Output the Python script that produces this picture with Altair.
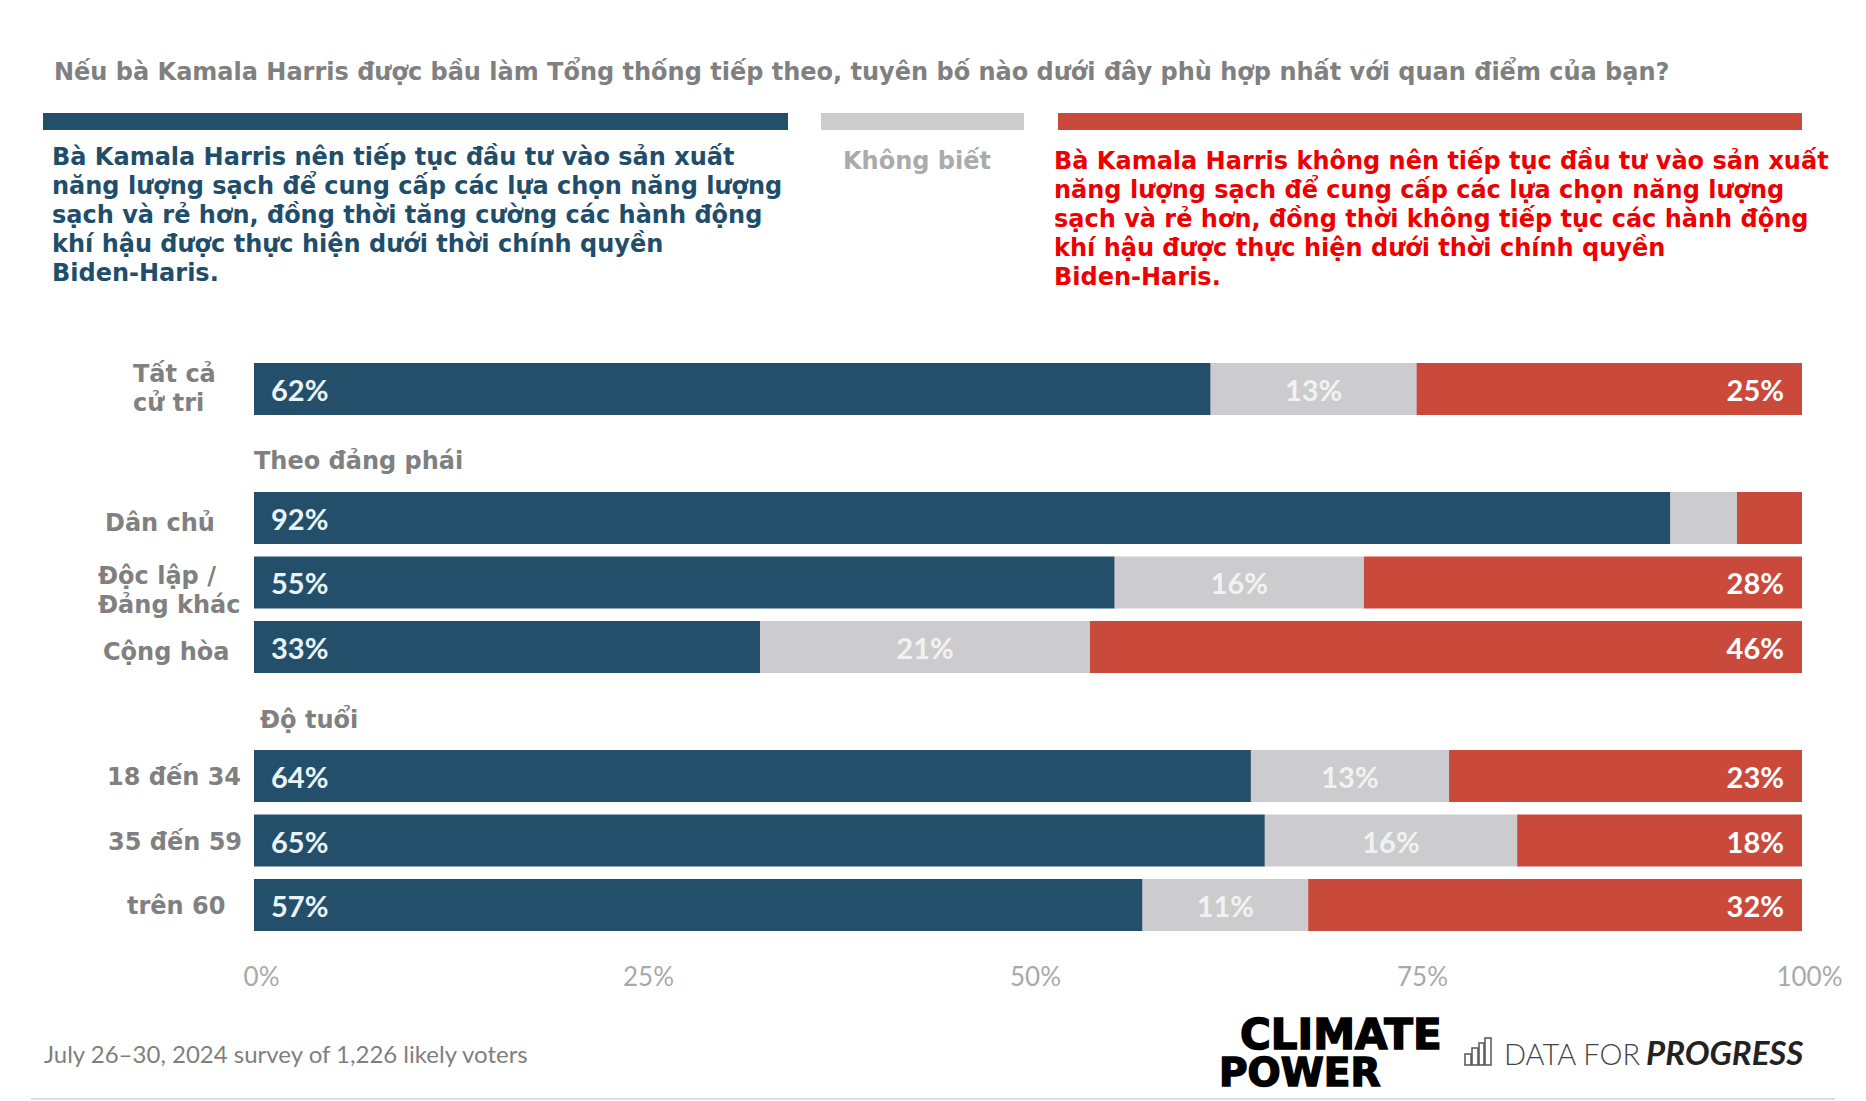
import altair as alt
import pandas as pd

groups = ["Tất cả cử tri", "Theo đảng phái", "Dân chủ", "Độc lập / Đảng khác", "Cộng hòa",
          "Độ tuổi", "18 đến 34", "35 đến 59", "trên 60"]
bar_groups = ["Tất cả cử tri", "Dân chủ", "Độc lập / Đảng khác", "Cộng hòa", "18 đến 34", "35 đến 59", "trên 60"]
support = [61.8, 91.5, 55.6, 32.7, 64.4, 65.3, 57.4]
unsure = [13.3, 4.3, 16.1, 21.3, 12.8, 16.3, 10.7]
oppose = [24.9, 4.2, 28.3, 46.0, 22.8, 18.4, 31.9]
support_lab = ["62%", "92%", "55%", "33%", "64%", "65%", "57%"]
unsure_lab = ["13%", "", "16%", "21%", "13%", "16%", "11%"]
oppose_lab = ["25%", "", "28%", "46%", "23%", "18%", "32%"]
ticks = [0, 25, 50, 75, 100]

BLUE, GREY, RED = "#244F6B", "#CCCBCD", "#C9493B"
BOLD = "DejaVu Sans"
SANS = "Lato"
PL, PT = 246, 355
W, H = 1548, 568
OX, OY = PL + 8, PT + 8

rows = []
for g, a, b, c, la, lb, lc in zip(bar_groups, support, unsure, oppose, support_lab, unsure_lab, oppose_lab):
    rows.append(dict(group=g, series="a", start=0, end=a, label=la, pos=0))
    rows.append(dict(group=g, series="b", start=a, end=a + b, label=lb, pos=a + b / 2))
    rows.append(dict(group=g, series="c", start=a + b, end=100, label=lc, pos=100))
df = pd.DataFrame(rows)

x_enc = alt.X("start:Q", scale=alt.Scale(domain=[0, 100], nice=False, zero=False),
              axis=alt.Axis(values=ticks, labelExpr="datum.value + '%'", domain=False, ticks=False, grid=False,
                            labelFont=SANS, labelFontSize=26, labelColor="#A9A9A9", labelPadding=33,
                            labelOffset=7, labelFlush=False, labelBound=False, labelOverlap=False, title=None))
y_enc = alt.Y("group:N", scale=alt.Scale(domain=groups, paddingInner=0.194, paddingOuter=0), axis=None)

bars = alt.Chart(df).mark_bar().encode(
    x=x_enc, x2="end:Q", y=y_enc,
    color=alt.Color("series:N", scale=alt.Scale(domain=["a", "b", "c"], range=[BLUE, GREY, RED]), legend=None),
)


def vals(series, align, dx, color):
    return alt.Chart(df[(df.series == series) & (df.label != "")]).mark_text(
        align=align, dx=dx, dy=3, baseline="middle", font=SANS, fontWeight="bold", fontSize=29, color=color
    ).encode(x=alt.X("pos:Q"), y=y_enc, text="label:N")


def txt(s, X, Y, size, color, weight="bold", font=BOLD, align="left", **kw):
    return alt.Chart(pd.DataFrame({"t": [s]})).mark_text(
        align=align, baseline="alphabetic", font=font, fontSize=size, fontWeight=weight, color=color, **kw
    ).encode(x=alt.value(X - OX), y=alt.value(Y - OY), text="t:N")


def box(x0, x1, y0, y1, **kw):
    return alt.Chart(pd.DataFrame({"a": [0]})).mark_rect(**kw).encode(
        x=alt.value(x0 - OX), x2=alt.value(x1 - OX), y=alt.value(y0 - OY), y2=alt.value(y1 - OY))


GR = "#808080"
FS = 24
layers = [bars, vals("a", "left", 17, "#EAF3F8"), vals("b", "center", 0, "#F2F2F2"), vals("c", "right", -18, "#FFFFFF")]

layers += [txt("Nếu bà Kamala Harris được bầu làm Tổng thống tiếp theo, tuyên bố nào dưới đây phù hợp nhất với quan điểm của bạn?", 54, 80, FS, GR)]
layers += [box(43, 788, 113, 130, color=BLUE), box(821, 1024, 113, 130, color=GREY), box(1058, 1802, 113, 130, color=RED)]

blue_lines = ["Bà Kamala Harris nên tiếp tục đầu tư vào sản xuất",
              "năng lượng sạch để cung cấp các lựa chọn năng lượng",
              "sạch và rẻ hơn, đồng thời tăng cường các hành động",
              "khí hậu được thực hiện dưới thời chính quyền",
              "Biden-Haris."]
red_lines = ["Bà Kamala Harris không nên tiếp tục đầu tư vào sản xuất",
             "năng lượng sạch để cung cấp các lựa chọn năng lượng",
             "sạch và rẻ hơn, đồng thời không tiếp tục các hành động",
             "khí hậu được thực hiện dưới thời chính quyền",
             "Biden-Haris."]
for i, s in enumerate(blue_lines):
    layers.append(txt(s, 52, 165 + i * 29, FS, "#1F4E6B"))
for i, s in enumerate(red_lines):
    layers.append(txt(s, 1054, 169 + i * 29, FS, "#EE0000"))
layers.append(txt("Không biết", 843, 169, FS, "#ABABAB"))

side = [("Tất cả", 133, 382), ("cử tri", 133, 411), ("Theo đảng phái", 254, 469), ("Dân chủ", 105, 531),
        ("Độc lập /", 98, 584), ("Đảng khác", 98, 613), ("Cộng hòa", 103, 660), ("Độ tuổi", 260, 728),
        ("18 đến 34", 107, 785), ("35 đến 59", 108, 850), ("trên 60", 127, 914)]
for s, X, Y in side:
    layers.append(txt(s, X, Y, FS, GR))

layers.append(txt("July 26–30, 2024 survey of 1,226 likely voters", 44, 1063, 24, "#7F7F7F", weight="normal", font=SANS))
layers.append(txt("CLIMATE", 1240, 1049, 42, "#000000", stroke="#000000", strokeWidth=1.5))
layers.append(txt("POWER", 1219, 1086, 39, "#000000", stroke="#000000", strokeWidth=1.5))
layers.append(txt("DATA FOR", 1504, 1065, 29, "#444444", weight=300, font=SANS))
layers.append(txt("PROGRESS", 1646, 1065, 33, "#222222", weight="bold", font=SANS, fontStyle="italic"))
for x0, x1, y0 in [(1465, 1471, 1054), (1472, 1478, 1048), (1479, 1484, 1043), (1485, 1491, 1038)]:
    layers.append(box(x0, x1, y0, 1065, fillOpacity=0, stroke="#555555", strokeWidth=1.5))
layers.append(box(31, 1835, 1098, 1100, color="#DDDDDD"))

chart = alt.layer(*layers).properties(
    width=W, height=H,
    autosize=alt.AutoSizeParams(type="none"),
    padding={"left": PL, "top": PT, "right": 1850 - PL - W, "bottom": 1093 - PT - H},
    background="white",
).configure_view(stroke=None)

chart.save("out.html", embed_options={"renderer": "svg", "actions": False})
